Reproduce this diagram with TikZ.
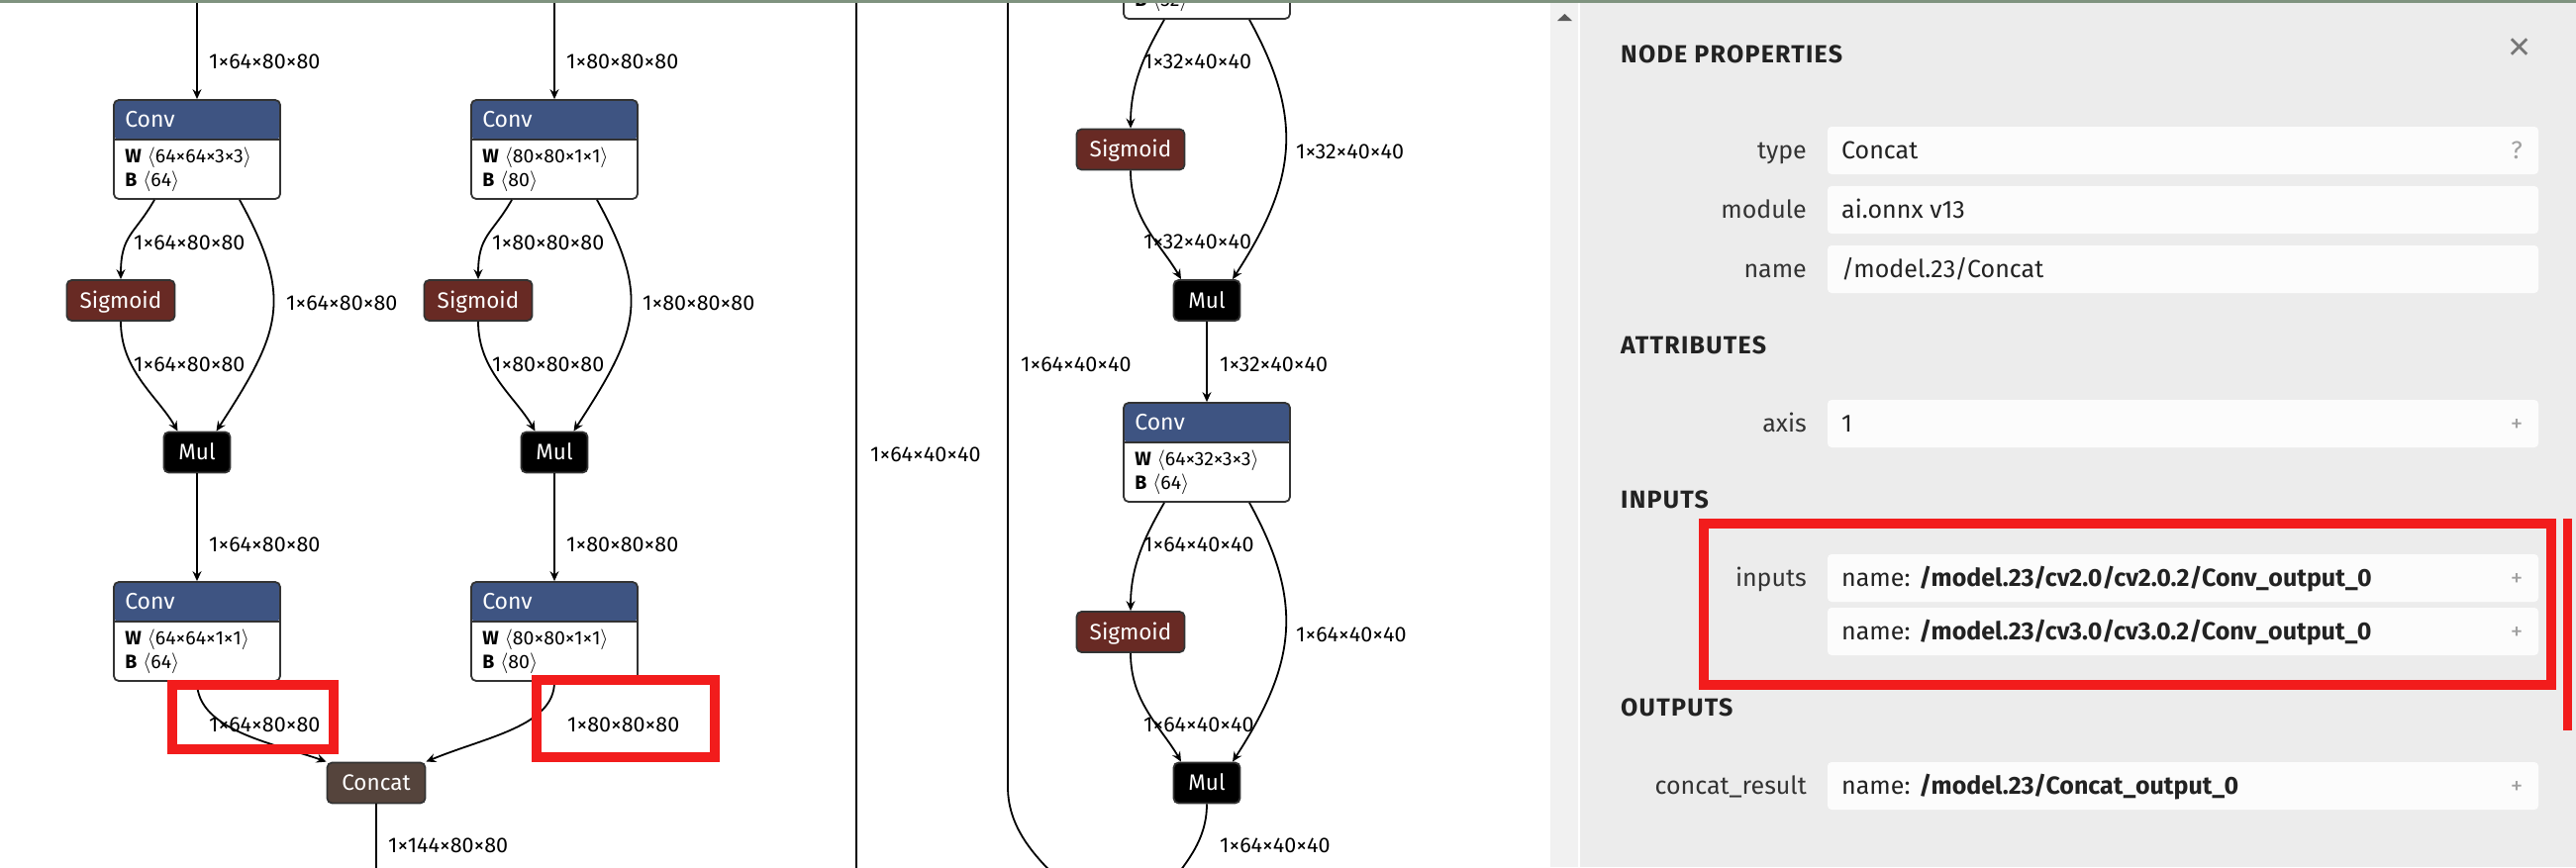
\documentclass[tikz,border=0pt]{standalone}
\usepackage{fontspec}
\setmainfont{Fira Sans}
\newfontfamily\symfont{DejaVu Sans}
\newfontfamily\headfont[LetterSpace=5]{Fira Sans}
\usetikzlibrary{arrows.meta}

\definecolor{convblue}{RGB}{62,84,130}
\definecolor{sigred}{RGB}{104,42,36}
\definecolor{catbrown}{RGB}{85,68,60}
\definecolor{nodeline}{RGB}{51,51,51}
\definecolor{markred}{RGB}{242,28,28}
\definecolor{panelgray}{RGB}{236,236,236}
\definecolor{stripgray}{RGB}{241,241,241}
\definecolor{fieldwhite}{RGB}{252,252,252}
\definecolor{topgreen}{RGB}{127,147,127}
\definecolor{keygray}{RGB}{51,51,51}
\definecolor{valblack}{RGB}{34,34,34}
\definecolor{hintgray}{RGB}{160,160,160}
\definecolor{closegray}{RGB}{118,118,118}

\newcommand{\pxsize}[1]{\fontsize{#1}{#1}\selectfont}

% conv block: name, centre, W, B
\newcommand{\convblock}[4]{%
  \node[convbox] (#1) at #2 {};
  \node[optitle] (#1t) at ([xshift=12pt,yshift=-20pt]#1.north west) {Conv};
  \node[attr] (#1w) at ([xshift=12pt,yshift=-57.5pt]#1.north west) {\textbf{W}\hspace{6pt}$\langle$#3$\rangle$};
  \node[attr] (#1b) at ([xshift=12pt,yshift=-82pt]#1.north west) {\textbf{B}\hspace{6pt}$\langle$#4$\rangle$};}

% conv -> sigmoid -> mul, plus the skip edge
\newcommand{\swish}[4]{%
  \draw[edge] ([xshift=-43pt]#1.south) .. controls +(-20,35) and +(0,-45) .. (#2.north);
  \draw[edge] (#2.south) .. controls +(0,50) and +(-20,-35) .. ([xshift=-#4]#3.north);
  \draw[edge] ([xshift=43pt]#1.south) .. controls +(55,100) and +(65,-100) .. ([xshift=#4]#3.north);}

% one row of the properties panel
\newcommand{\field}[4]{%
  \node[fieldbox] (#1) at (2205,#2) {};
  \node[fieldkey] (#1k) at (1825,#2) {#3};
  \node[fieldval] (#1v) at (1860,#2) {#4};}

\begin{document}
\begin{tikzpicture}[x=1pt, y=-1pt,
    edge/.style={line width=1.8pt, -{Stealth[length=10pt,width=9pt,inset=3.5pt]}},
    wire/.style={line width=1.8pt},
    op/.style={draw=nodeline, line width=1.8pt, rounded corners=5pt, minimum height=41pt,
      inner sep=0pt, text=white, font=\pxsize{22.5}, text height=15.5pt, text depth=0pt},
    sigm/.style={op, fill=sigred, minimum width=109pt},
    mulbox/.style={op, fill=black, minimum width=67pt},
    catbox/.style={op, fill=catbrown, minimum width=99pt},
    convbox/.style={draw=nodeline, line width=1.8pt, fill=white, rounded corners=5pt,
      minimum width=168pt, minimum height=100pt, inner sep=0pt,
      path picture={
        \fill[convblue] (path picture bounding box.north west) rectangle ([yshift=-40pt]path picture bounding box.north east);
        \draw[nodeline, line width=2pt] ([yshift=-40pt]path picture bounding box.north west) -- ([yshift=-40pt]path picture bounding box.north east);}},
    optitle/.style={anchor=west, inner sep=0pt, text=white, font=\pxsize{23}, text height=15.8pt, text depth=0pt},
    attr/.style={anchor=west, inner sep=0pt, font=\pxsize{19.5}, text height=13.4pt, text depth=0pt},
    lbl/.style={anchor=west, inner sep=0pt, font=\pxsize{21.5}, text height=14.8pt, text depth=0pt},
    head/.style={anchor=west, inner sep=0pt, font=\headfont\pxsize{25}\bfseries, text=valblack, text height=17pt, text depth=0pt},
    fieldbox/.style={fill=fieldwhite, rounded corners=4pt, minimum width=718pt, minimum height=48pt, inner sep=0pt},
    fieldkey/.style={anchor=east, inner sep=0pt, font=\pxsize{25}, text=keygray, text height=17pt, text depth=0pt},
    fieldval/.style={anchor=west, inner sep=0pt, font=\pxsize{25}, text=valblack, text height=17pt, text depth=0pt},
    hint/.style={inner sep=0pt, font=\pxsize{25}, text=hintgray, text height=17pt, text depth=0pt}]

    \useasboundingbox (0,0) rectangle (2602,876);
    \clip (0,0) rectangle (2602,876);
    \fill[white] (0,0) rectangle (2602,876);

    % sidebar
    \fill[stripgray] (1566,0) rectangle (1594,876);
    \fill[panelgray] (1596,0) rectangle (2602,876);
    \fill[black!65] (1573,21) -- (1588,21) -- (1580.5,14) -- cycle;

    % left graph
    \convblock{c1}{(199,151)}{64×64×3×3}{64}
    \convblock{c2}{(560,151)}{80×80×1×1}{80}
    \node[sigm] (s1) at (122,303.5) {Sigmoid};
    \node[sigm] (s2) at (483,303.5) {Sigmoid};
    \node[mulbox] (m1) at (199,457) {Mul};
    \node[mulbox] (m2) at (560,457) {Mul};
    \convblock{c3}{(199,638)}{64×64×1×1}{64}
    \convblock{c4}{(560,638)}{80×80×1×1}{80}
    \node[catbox] (cat) at (380,791) {Concat};

    \coordinate (in1) at (199,-5);
    \coordinate (in2) at (560,-5);
    \coordinate (catout) at (380,895);
    \draw[edge] (in1) -- (c1);
    \draw[edge] (in2) -- (c2);
    \swish{c1}{s1}{m1}{19.5pt}
    \swish{c2}{s2}{m2}{19.5pt}
    \draw[edge] (m1) -- (c3);
    \draw[edge] (m2) -- (c4);
    \draw[edge] (c3.south) .. controls +(0,50) and +(-50,-18) .. (cat.north west);
    \draw[edge] (c4.south) .. controls +(0,45) and +(60,-25) .. (cat.north east);
    \draw[wire] (cat) -- (catout);

    % middle graph
    \node[convbox] (cT) at (1219,-31) {};
    \node[attr] (cTb) at ([xshift=12pt,yshift=-82pt]cT.north west) {\textbf{B}\hspace{6pt}$\langle$32$\rangle$};
    \node[sigm] (s3) at (1142,151) {Sigmoid};
    \node[mulbox] (m3) at (1219,303.5) {Mul};
    \convblock{c5}{(1219,457)}{64×32×3×3}{64}
    \node[sigm] (s4) at (1142,638.5) {Sigmoid};
    \node[mulbox] (m4) at (1219,791) {Mul};

    \coordinate (ltop1) at (865,-5);
    \coordinate (lbot1) at (865,895);
    \coordinate (ltop2) at (1018,-5);
    \coordinate (lbot2) at (1078,897);
    \coordinate (mout) at (1180,897);
    \draw[wire] (ltop1) -- (lbot1);
    \draw[wire] (ltop2) -- (1018,795) .. controls (1018,840) and (1050,870) .. (lbot2);
    \swish{cT}{s3}{m3}{26pt}
    \draw[edge] (m3) -- (c5);
    \swish{c5}{s4}{m4}{26pt}
    \draw[wire] (m4.south) .. controls +(0,40) and +(14,-22) .. (mout);

    % edge labels
    \foreach \x/\y/\t [count=\i] in {211/62/1×64×80×80, 572/62/1×80×80×80,
        135/245/1×64×80×80, 497/245/1×80×80×80, 289/306/1×64×80×80, 649/306/1×80×80×80,
        135/368/1×64×80×80, 497/368/1×80×80×80, 211/550/1×64×80×80, 572/550/1×80×80×80,
        211/732/1×64×80×80, 573/732/1×80×80×80, 392/854/1×144×80×80,
        879/459/1×64×40×40, 1031/368/1×64×40×40,
        1155/62/1×32×40×40, 1309/153/1×32×40×40, 1155/244/1×32×40×40, 1232/368/1×32×40×40,
        1155/550/1×64×40×40, 1309/641/1×64×40×40, 1155/732/1×64×40×40, 1232/854/1×64×40×40}
      \node[lbl] (l\i) at (\x,\y) {\t};

    % properties panel
    \node[head] (hnode) at (1637,55) {NODE PROPERTIES};
    \node[font=\symfont\pxsize{30}, text=closegray, inner sep=0pt] (close) at (2545,49) {✕};
    \field{ftype}{152}{type}{Concat}
    \field{fmod}{212}{module}{ai.onnx v13}
    \field{fname}{272}{name}{/model.23/Concat}
    \node[head] (hattr) at (1637,349) {ATTRIBUTES};
    \field{faxis}{428}{axis}{1}
    \node[head] (hin) at (1637,505) {INPUTS};
    \field{fin}{584}{inputs}{name: \textbf{/model.23/cv2.0/cv2.0.2/Conv\_output\_0}}
    \node[fieldbox] (fin2) at (2205,638) {};
    \node[fieldval] (fin2v) at (1860,638) {name: \textbf{/model.23/cv3.0/cv3.0.2/Conv\_output\_0}};
    \node[head] (hout) at (1637,715) {OUTPUTS};
    \field{fout}{794}{concat\_result}{name: \textbf{/model.23/Concat\_output\_0}}
    \node[hint] (qm) at (2542,152) {?};
    \foreach \y [count=\i] in {428,584,638,794}
      \node[hint] (pl\i) at (2542,\y) {+};

    % red marks
    \draw[markred, line width=10pt] (173.5,692) rectangle (337,756.5);
    \draw[markred, line width=10pt] (542,686.5) rectangle (722,764.5);
    \draw[markred, line width=10pt] (1721,529) rectangle (2577,692);
    \draw[markred, line width=9pt] (2593.5,524) -- (2593.5,738);

    \fill[topgreen] (0,0) rectangle (2602,2.5);
\end{tikzpicture}
\end{document}
